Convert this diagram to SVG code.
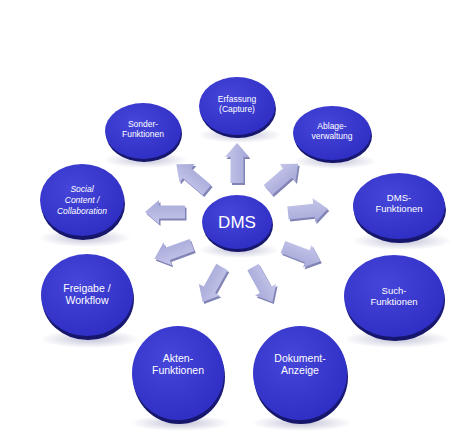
<svg xmlns="http://www.w3.org/2000/svg" width="474" height="434" viewBox="0 0 474 434">
<defs>
<radialGradient id="disc" cx="40%" cy="35%" r="70%">
<stop offset="0" stop-color="#4646da"/>
<stop offset="1" stop-color="#2e2ec4"/>
</radialGradient>
<linearGradient id="rim" x1="0" y1="0" x2="0" y2="1">
<stop offset="0" stop-color="#24248f"/>
<stop offset="1" stop-color="#15156a"/>
</linearGradient>
<radialGradient id="shadow" cx="50%" cy="50%" r="50%">
<stop offset="0" stop-color="#9090b8" stop-opacity="0.55"/>
<stop offset="1" stop-color="#9090b8" stop-opacity="0"/>
</radialGradient>
<linearGradient id="arr" x1="0" y1="0" x2="0" y2="1">
<stop offset="0" stop-color="#c4c6ea"/>
<stop offset="1" stop-color="#a6a8d8"/>
</linearGradient>
<path id="a" d="M0,-6.5 L26,-6.5 L26,-12 L40,0 L26,12 L26,6.5 L0,6.5 Z"/>
</defs>
<style>
.sh{fill:url(#shadow)}
.rim{fill:url(#rim)}
.face{fill:url(#disc)}
.t{fill:#ffffff;font-family:"Liberation Sans",Arial,sans-serif;font-size:8.5px;text-anchor:middle}
.ti{font-style:italic}
.m{font-size:9.5px}
.l{font-size:10.5px}
.big{font-size:17px}
.as{fill:#8284b6}
.af{fill:url(#arr)}
</style>
<rect width="474" height="434" fill="#ffffff"/>

<g id="connectors">
<g transform="translate(238.5,185) rotate(-90)"><use href="#a" class="as"/></g>
<g transform="translate(237,183) rotate(-90)"><use href="#a" class="af"/></g>
<g transform="translate(208.5,192) rotate(-140)"><use href="#a" class="as"/></g>
<g transform="translate(207,190) rotate(-140)"><use href="#a" class="af"/></g>
<g transform="translate(269.5,192) rotate(-41)"><use href="#a" class="as"/></g>
<g transform="translate(268,190) rotate(-41)"><use href="#a" class="af"/></g>
<g transform="translate(186.5,214) rotate(180)"><use href="#a" class="as"/></g>
<g transform="translate(185,212) rotate(180)"><use href="#a" class="af"/></g>
<g transform="translate(289.5,215) rotate(-6)"><use href="#a" class="as"/></g>
<g transform="translate(288,213) rotate(-6)"><use href="#a" class="af"/></g>
<g transform="translate(193.5,247) rotate(160)"><use href="#a" class="as"/></g>
<g transform="translate(192,245) rotate(160)"><use href="#a" class="af"/></g>
<g transform="translate(284.5,249) rotate(21)"><use href="#a" class="as"/></g>
<g transform="translate(283,247) rotate(21)"><use href="#a" class="af"/></g>
<g transform="translate(223.5,269) rotate(119)"><use href="#a" class="as"/></g>
<g transform="translate(222,267) rotate(119)"><use href="#a" class="af"/></g>
<g transform="translate(254.5,269) rotate(61)"><use href="#a" class="as"/></g>
<g transform="translate(253,267) rotate(61)"><use href="#a" class="af"/></g>
</g>

<g id="dms">
<ellipse class="sh" cx="239" cy="250" rx="40" ry="8"/>
<ellipse class="rim" cx="238" cy="225" rx="35" ry="27"/>
<ellipse class="face" cx="237" cy="222" rx="35" ry="27"/>
<text class="t big" x="237" y="228">DMS</text>
</g>

<g id="erfassung">
<ellipse class="sh" cx="240" cy="135" rx="42" ry="8"/>
<ellipse class="rim" cx="238" cy="109" rx="38" ry="29"/>
<ellipse class="face" cx="237" cy="106" rx="38" ry="29"/>
<text class="t" x="237" y="102">Erfassung</text>
<text class="t" x="237" y="112">(Capture)</text>
</g>

<g id="sonder">
<ellipse class="sh" cx="146" cy="160" rx="42" ry="8"/>
<ellipse class="rim" cx="144" cy="134" rx="38" ry="28"/>
<ellipse class="face" cx="143" cy="131" rx="38" ry="28"/>
<text class="t" x="143" y="127">Sonder-</text>
<text class="t" x="143" y="137">Funktionen</text>
</g>

<g id="ablage">
<ellipse class="sh" cx="335" cy="161" rx="42" ry="8"/>
<ellipse class="rim" cx="333" cy="136" rx="39" ry="27"/>
<ellipse class="face" cx="332" cy="133" rx="39" ry="27"/>
<text class="t" x="332" y="129">Ablage-</text>
<text class="t" x="332" y="139">verwaltung</text>
</g>

<g id="social">
<ellipse class="sh" cx="85" cy="238" rx="46" ry="9"/>
<ellipse class="rim" cx="83" cy="204" rx="42" ry="36"/>
<ellipse class="face" cx="82" cy="200" rx="42" ry="36"/>
<text class="t ti" x="82" y="192">Social</text>
<text class="t ti" x="82" y="203">Content /</text>
<text class="t ti" x="82" y="214">Collaboration</text>
</g>

<g id="dmsfunktionen">
<ellipse class="sh" cx="402" cy="241" rx="50" ry="9"/>
<ellipse class="rim" cx="400" cy="210" rx="46" ry="33"/>
<ellipse class="face" cx="399" cy="206" rx="46" ry="33"/>
<text class="t m" x="399" y="201">DMS-</text>
<text class="t m" x="399" y="212">Funktionen</text>
</g>

<g id="freigabe">
<ellipse class="sh" cx="90" cy="339" rx="50" ry="9"/>
<ellipse class="rim" cx="88" cy="299" rx="46" ry="41"/>
<ellipse class="face" cx="87" cy="295" rx="46" ry="41"/>
<text class="t l" x="87" y="292">Freigabe /</text>
<text class="t l" x="87" y="304">Workflow</text>
</g>

<g id="such">
<ellipse class="sh" cx="397" cy="339" rx="53" ry="9"/>
<ellipse class="rim" cx="395" cy="300" rx="50" ry="41"/>
<ellipse class="face" cx="394" cy="296" rx="50" ry="41"/>
<text class="t m" x="394" y="294">Such-</text>
<text class="t m" x="394" y="305">Funktionen</text>
</g>

<g id="akten">
<ellipse class="sh" cx="180" cy="423" rx="50" ry="8"/>
<ellipse class="rim" cx="179" cy="377" rx="46" ry="47"/>
<ellipse class="face" cx="178" cy="373" rx="46" ry="47"/>
<text class="t l" x="178" y="362">Akten-</text>
<text class="t l" x="178" y="374">Funktionen</text>
</g>

<g id="dokument">
<ellipse class="sh" cx="302" cy="423" rx="50" ry="8"/>
<ellipse class="rim" cx="301" cy="377" rx="47" ry="47"/>
<ellipse class="face" cx="300" cy="373" rx="47" ry="47"/>
<text class="t l" x="300" y="362">Dokument-</text>
<text class="t l" x="300" y="374">Anzeige</text>
</g>
</svg>
